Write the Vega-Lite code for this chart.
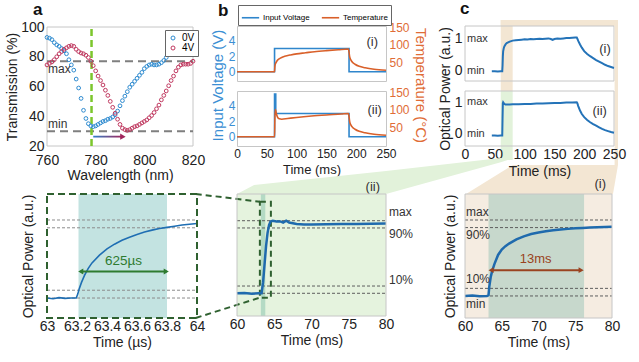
{
"$schema": "https://vega.github.io/schema/vega-lite/v6.json",
"padding": {"left": 5, "top": 0, "right": 5, "bottom": 5},
"config": {
 "font": "Liberation Sans",
 "view": {"stroke": null},
 "axis": {"grid": false, "ticks": false, "domain": false, "labelFlush": false, "labelOverlap": false, "labelFontSize": 14, "titleFontSize": 14, "titleFontWeight": "normal", "labelColor": "#222222", "titleColor": "#222222", "labelFont": "Liberation Sans", "titleFont": "Liberation Sans"},
 "legend": {"labelFont": "Liberation Sans"},
 "text": {"font": "Liberation Sans"}
},
"datasets": {
 "aT": [
{"wl":760,"T":93,"s":"0V"},{"wl":761,"T":92.5,"s":"0V"},{"wl":762,"T":91.5,"s":"0V"},{"wl":763,"T":89.5,"s":"0V"},{"wl":764,"T":88,"s":"0V"},{"wl":765,"T":87,"s":"0V"},{"wl":766,"T":85.5,"s":"0V"},{"wl":767,"T":84,"s":"0V"},{"wl":768,"T":82,"s":"0V"},{"wl":769,"T":78,"s":"0V"},{"wl":770,"T":74.5,"s":"0V"},{"wl":771,"T":71,"s":"0V"},{"wl":772,"T":65,"s":"0V"},{"wl":773,"T":59,"s":"0V"},{"wl":774,"T":52,"s":"0V"},{"wl":775,"T":44,"s":"0V"},{"wl":776,"T":38.5,"s":"0V"},{"wl":777,"T":35,"s":"0V"},{"wl":778,"T":33.5,"s":"0V"},{"wl":779,"T":33,"s":"0V"},{"wl":780,"T":33.5,"s":"0V"},{"wl":781,"T":34.5,"s":"0V"},{"wl":782,"T":35.5,"s":"0V"},{"wl":783,"T":36.5,"s":"0V"},{"wl":784,"T":37,"s":"0V"},{"wl":785,"T":38,"s":"0V"},{"wl":786,"T":38.5,"s":"0V"},{"wl":787,"T":39.5,"s":"0V"},{"wl":788,"T":41,"s":"0V"},{"wl":789,"T":43.5,"s":"0V"},{"wl":790,"T":47,"s":"0V"},{"wl":791,"T":50.5,"s":"0V"},{"wl":792,"T":53.5,"s":"0V"},{"wl":793,"T":56.5,"s":"0V"},{"wl":794,"T":59.5,"s":"0V"},{"wl":795,"T":61.5,"s":"0V"},{"wl":796,"T":63.5,"s":"0V"},{"wl":797,"T":65.5,"s":"0V"},{"wl":798,"T":67.5,"s":"0V"},{"wl":799,"T":69.5,"s":"0V"},{"wl":800,"T":72,"s":"0V"},{"wl":801,"T":73.5,"s":"0V"},{"wl":802,"T":74.5,"s":"0V"},{"wl":803,"T":75,"s":"0V"},{"wl":804,"T":74.5,"s":"0V"},{"wl":805,"T":74.5,"s":"0V"},{"wl":806,"T":75,"s":"0V"},{"wl":807,"T":76,"s":"0V"},{"wl":808,"T":77.5,"s":"0V"},{"wl":809,"T":79.5,"s":"0V"},{"wl":810,"T":82.5,"s":"0V"},{"wl":811,"T":85.5,"s":"0V"},{"wl":812,"T":88,"s":"0V"},{"wl":813,"T":90.5,"s":"0V"},{"wl":814,"T":92.5,"s":"0V"},{"wl":815,"T":94.5,"s":"0V"},{"wl":816,"T":95.5,"s":"0V"},{"wl":817,"T":96,"s":"0V"},{"wl":818,"T":95,"s":"0V"},{"wl":819,"T":94,"s":"0V"},{"wl":820,"T":93,"s":"0V"},
{"wl":760,"T":74.5,"s":"4V"},{"wl":761,"T":75.5,"s":"4V"},{"wl":762,"T":76.5,"s":"4V"},{"wl":763,"T":78,"s":"4V"},{"wl":764,"T":80,"s":"4V"},{"wl":765,"T":82,"s":"4V"},{"wl":766,"T":83.5,"s":"4V"},{"wl":767,"T":85,"s":"4V"},{"wl":768,"T":86,"s":"4V"},{"wl":769,"T":87,"s":"4V"},{"wl":770,"T":87.5,"s":"4V"},{"wl":771,"T":87,"s":"4V"},{"wl":772,"T":85,"s":"4V"},{"wl":773,"T":83.5,"s":"4V"},{"wl":774,"T":82.5,"s":"4V"},{"wl":775,"T":82,"s":"4V"},{"wl":776,"T":81,"s":"4V"},{"wl":777,"T":79.5,"s":"4V"},{"wl":778,"T":77,"s":"4V"},{"wl":779,"T":74,"s":"4V"},{"wl":780,"T":70.5,"s":"4V"},{"wl":781,"T":67,"s":"4V"},{"wl":782,"T":64,"s":"4V"},{"wl":783,"T":61,"s":"4V"},{"wl":784,"T":57.5,"s":"4V"},{"wl":785,"T":54,"s":"4V"},{"wl":786,"T":50,"s":"4V"},{"wl":787,"T":46,"s":"4V"},{"wl":788,"T":42,"s":"4V"},{"wl":789,"T":38,"s":"4V"},{"wl":790,"T":34.5,"s":"4V"},{"wl":791,"T":32,"s":"4V"},{"wl":792,"T":31,"s":"4V"},{"wl":793,"T":30.5,"s":"4V"},{"wl":794,"T":31,"s":"4V"},{"wl":795,"T":32,"s":"4V"},{"wl":796,"T":33,"s":"4V"},{"wl":797,"T":33.5,"s":"4V"},{"wl":798,"T":34.5,"s":"4V"},{"wl":799,"T":35.5,"s":"4V"},{"wl":800,"T":36.5,"s":"4V"},{"wl":801,"T":37.5,"s":"4V"},{"wl":802,"T":39,"s":"4V"},{"wl":803,"T":40.5,"s":"4V"},{"wl":804,"T":42.5,"s":"4V"},{"wl":805,"T":45,"s":"4V"},{"wl":806,"T":47.5,"s":"4V"},{"wl":807,"T":51,"s":"4V"},{"wl":808,"T":54,"s":"4V"},{"wl":809,"T":57,"s":"4V"},{"wl":810,"T":60.5,"s":"4V"},{"wl":811,"T":64,"s":"4V"},{"wl":812,"T":67,"s":"4V"},{"wl":813,"T":70.5,"s":"4V"},{"wl":814,"T":73,"s":"4V"},{"wl":815,"T":74.5,"s":"4V"},{"wl":816,"T":75,"s":"4V"},{"wl":817,"T":75,"s":"4V"},{"wl":818,"T":75,"s":"4V"},{"wl":819,"T":75.5,"s":"4V"},{"wl":820,"T":77,"s":"4V"}
 ],
 "aLev": [{"v":77,"label":"max"},{"v":30,"label":"min"}],
 "b1v": [{"t":0,"v":0},{"t":63,"v":3},{"t":188,"v":0},{"t":250,"v":0}],
 "b2v": [{"t":0,"v":0},{"t":63,"v":5.5},{"t":65,"v":3},{"t":188,"v":0},{"t":250,"v":0}],
 "b1T": [{"t":0,"T":25},{"t":63,"T":25},{"t":63.5,"T":38},{"t":64,"T":44},{"t":65,"T":49},{"t":67,"T":55},{"t":70,"T":60},{"t":75,"T":65},{"t":80,"T":68},{"t":90,"T":72},{"t":100,"T":75},{"t":115,"T":78},{"t":130,"T":81},{"t":150,"T":84},{"t":170,"T":86.5},{"t":187,"T":88.5},{"t":188,"T":80},{"t":189,"T":67},{"t":191,"T":58},{"t":194,"T":51},{"t":198,"T":46},{"t":205,"T":40},{"t":215,"T":36},{"t":230,"T":32},{"t":250,"T":29}],
 "b2T": [{"t":0,"T":25},{"t":63,"T":25},{"t":63.5,"T":70},{"t":64.3,"T":101},{"t":65,"T":98},{"t":66,"T":90},{"t":68,"T":80},{"t":71,"T":75},{"t":75,"T":74},{"t":85,"T":76},{"t":100,"T":79},{"t":125,"T":83},{"t":150,"T":86},{"t":175,"T":88.5},{"t":187,"T":90},{"t":188,"T":81},{"t":189,"T":68},{"t":191,"T":58},{"t":194,"T":51},{"t":198,"T":46},{"t":205,"T":40},{"t":215,"T":36},{"t":230,"T":32},{"t":250,"T":29}],
 "c1": [{"t":45,"v":-0.02},{"t":50,"v":-0.02},{"t":55,"v":-0.03},{"t":60,"v":-0.02},{"t":62.5,"v":-0.02},{"t":63,"v":0.15},{"t":63.5,"v":0.45},{"t":64,"v":0.6},{"t":65,"v":0.7},{"t":66,"v":0.76},{"t":68,"v":0.82},{"t":70,"v":0.86},{"t":75,"v":0.91},{"t":80,"v":0.94},{"t":85,"v":0.95},{"t":90,"v":0.96},{"t":95,"v":0.97},{"t":100,"v":0.98},{"t":105,"v":0.975},{"t":110,"v":0.99},{"t":115,"v":0.98},{"t":120,"v":0.99},{"t":125,"v":1.0},{"t":130,"v":0.99},{"t":135,"v":1.0},{"t":140,"v":1.01},{"t":144,"v":0.99},{"t":147,"v":0.96},{"t":150,"v":0.99},{"t":155,"v":1.01},{"t":160,"v":1.0},{"t":165,"v":1.01},{"t":170,"v":1.02},{"t":175,"v":1.02},{"t":180,"v":1.03},{"t":185,"v":1.04},{"t":187.5,"v":1.04},{"t":188.5,"v":1.0},{"t":190,"v":0.93},{"t":193,"v":0.82},{"t":196,"v":0.72},{"t":200,"v":0.61},{"t":205,"v":0.52},{"t":210,"v":0.45},{"t":215,"v":0.39},{"t":220,"v":0.33},{"t":225,"v":0.28},{"t":230,"v":0.23},{"t":235,"v":0.18},{"t":240,"v":0.14},{"t":245,"v":0.11},{"t":250,"v":0.08}],
 "c2": [{"t":45,"v":-0.05},{"t":50,"v":-0.05},{"t":55,"v":-0.06},{"t":60,"v":-0.05},{"t":62.5,"v":-0.05},{"t":63,"v":0.5},{"t":63.5,"v":0.97},{"t":64,"v":1.0},{"t":65,"v":0.97},{"t":66,"v":0.95},{"t":68,"v":0.93},{"t":70,"v":0.93},{"t":75,"v":0.93},{"t":80,"v":0.94},{"t":90,"v":0.94},{"t":100,"v":0.95},{"t":110,"v":0.95},{"t":120,"v":0.96},{"t":130,"v":0.96},{"t":140,"v":0.97},{"t":150,"v":0.98},{"t":160,"v":0.98},{"t":170,"v":0.99},{"t":180,"v":0.99},{"t":187.5,"v":1.0},{"t":188.5,"v":0.97},{"t":190,"v":0.88},{"t":193,"v":0.74},{"t":196,"v":0.63},{"t":200,"v":0.53},{"t":205,"v":0.44},{"t":210,"v":0.37},{"t":215,"v":0.31},{"t":220,"v":0.26},{"t":225,"v":0.21},{"t":230,"v":0.16},{"t":235,"v":0.12},{"t":240,"v":0.09},{"t":245,"v":0.06},{"t":250,"v":0.04}],
 "cLab": [{"v":1,"label":"max"},{"v":0,"label":"min"}],
 "lev": [{"v":1},{"v":0.9},{"v":0.1},{"v":0}],
 "dC": [{"t":63.0,"v":0.0},{"t":63.04,"v":-0.01},{"t":63.08,"v":0.005},{"t":63.12,"v":-0.005},{"t":63.16,"v":0.0},{"t":63.195,"v":0.0},{"t":63.205,"v":0.05},{"t":63.215,"v":0.12},{"t":63.23,"v":0.2},{"t":63.25,"v":0.29},{"t":63.275,"v":0.38},{"t":63.3,"v":0.45},{"t":63.35,"v":0.55},{"t":63.4,"v":0.63},{"t":63.45,"v":0.69},{"t":63.5,"v":0.74},{"t":63.55,"v":0.78},{"t":63.6,"v":0.815},{"t":63.65,"v":0.845},{"t":63.7,"v":0.87},{"t":63.75,"v":0.89},{"t":63.8,"v":0.905},{"t":63.85,"v":0.92},{"t":63.9,"v":0.935},{"t":63.95,"v":0.945},{"t":64.0,"v":0.955}],
 "eC": [{"t":60,"v":0.0},{"t":61,"v":0.005},{"t":62,"v":-0.005},{"t":63,"v":0.0},{"t":63.3,"v":0.0},{"t":63.5,"v":0.15},{"t":63.7,"v":0.4},{"t":63.9,"v":0.65},{"t":64.1,"v":0.83},{"t":64.3,"v":0.94},{"t":64.5,"v":0.99},{"t":64.8,"v":1.0},{"t":65.3,"v":0.99},{"t":65.8,"v":0.99},{"t":66.2,"v":0.975},{"t":66.6,"v":1.0},{"t":67.0,"v":0.975},{"t":67.5,"v":0.965},{"t":68,"v":0.955},{"t":69,"v":0.948},{"t":70,"v":0.948},{"t":72,"v":0.95},{"t":74,"v":0.955},{"t":76,"v":0.955},{"t":78,"v":0.958},{"t":80,"v":0.96}],
 "fC": [{"t":60,"v":0.0},{"t":61,"v":0.005},{"t":62,"v":-0.005},{"t":63,"v":0.0},{"t":63.2,"v":0.01},{"t":63.3,"v":0.12},{"t":63.5,"v":0.25},{"t":63.7,"v":0.33},{"t":64,"v":0.42},{"t":64.5,"v":0.54},{"t":65,"v":0.61},{"t":65.5,"v":0.655},{"t":66,"v":0.69},{"t":67,"v":0.745},{"t":68,"v":0.785},{"t":69,"v":0.815},{"t":70,"v":0.835},{"t":71,"v":0.852},{"t":72,"v":0.865},{"t":73,"v":0.875},{"t":74,"v":0.883},{"t":75,"v":0.89},{"t":76,"v":0.895},{"t":77,"v":0.9},{"t":78,"v":0.905},{"t":79,"v":0.908},{"t":80,"v":0.91}],
 "eConn": [{"x":60,"lo":1.368,"hi":1.368},{"x":62.3,"lo":1.368,"hi":1.492},{"x":80,"lo":1.368,"hi":1.685},{"x":95.4,"lo":1.807,"hi":1.864},{"x":97.2,"lo":1.864,"hi":1.864}],
 "cConn": [{"x":1.7,"lo":-1.895,"hi":-1.895},{"x":80.5,"lo":-1.895,"hi":-0.98},{"x":248.3,"lo":-1.895,"hi":-0.98},{"x":256.7,"lo":-0.98,"hi":-0.98}]
},
"columns": 3,
"bounds": "flush",
"align": "each",
"spacing": {"row": 10, "column": 40},
"resolve": {"scale": {"color": "independent"}},
"concat": [
 {
  "width": 146, "height": 55,
  "layer": [
   {"data": {"values": [{}]},
    "mark": {"type": "rect", "filled": false, "stroke": "#c6c6c6", "strokeWidth": 1},
    "encoding": {
     "x": {"datum": 760, "type": "quantitative", "scale": {"domain": [760, 820], "nice": false, "zero": false}, "axis": {"values": [760, 780, 800, 820], "format": "d", "tickCount": 20, "labelOverlap": false, "labelFlush": false, "title": "Wavelength (nm)", "offset": 65, "labelPadding": 7, "titlePadding": 1}},
     "x2": {"datum": 820},
     "y": {"datum": 20, "type": "quantitative", "scale": {"domain": [20, 100], "nice": false, "zero": false, "range": [120, 1]}, "axis": {"values": [20, 40, 60, 80, 100], "format": "d", "tickCount": 20, "labelOverlap": false, "labelFlush": false, "title": "Transmission (%)", "titleY": 60.5, "labelPadding": 3, "titlePadding": 1}},
     "y2": {"datum": 100}}},
   {"data": {"name": "aLev"},
    "mark": {"type": "rule", "stroke": "#7f7f7f", "strokeWidth": 2, "strokeDash": [8, 5]},
    "encoding": {"y": {"field": "v", "type": "quantitative"}, "x": {"datum": 760, "type": "quantitative"}, "x2": {"datum": 820}}},
   {"data": {"values": [{}]},
    "mark": {"type": "rule", "stroke": "#7cc62c", "strokeWidth": 2.5, "strokeDash": [7, 4]},
    "encoding": {"x": {"datum": 778.3, "type": "quantitative"}, "y": {"datum": 20, "type": "quantitative"}, "y2": {"datum": 100}}},
   {"data": {"name": "aT"},
    "mark": {"type": "point", "filled": false, "size": 14, "strokeWidth": 1, "opacity": 1},
    "encoding": {
     "x": {"field": "wl", "type": "quantitative"},
     "y": {"field": "T", "type": "quantitative"},
     "color": {"field": "s", "type": "nominal", "scale": {"domain": ["0V", "4V"], "range": ["#2e8bd0", "#c0385f"]},
       "legend": {"orient": "none", "legendX": 118, "legendY": 4, "direction": "vertical", "title": null, "strokeColor": "#666666", "fillColor": "white", "padding": 3, "labelFontSize": 10, "symbolSize": 16, "symbolStrokeWidth": 1, "rowPadding": 0, "labelOffset": 4}}}},
   {"data": {"values": [{}]},
    "mark": {"type": "text", "text": "max", "align": "left", "baseline": "middle", "dx": 1, "dy": 8, "fontSize": 12, "color": "#333333"},
    "encoding": {"x": {"datum": 760, "type": "quantitative"}, "y": {"datum": 77, "type": "quantitative"}}},
   {"data": {"values": [{}]},
    "mark": {"type": "text", "text": "min", "align": "left", "baseline": "middle", "dx": 1, "dy": -7, "fontSize": 12, "color": "#333333"},
    "encoding": {"x": {"datum": 760, "type": "quantitative"}, "y": {"datum": 30, "type": "quantitative"}}},
   {"data": {"values": [{}]},
    "mark": {"type": "rect", "fill": {"gradient": "linear", "x1": 0, "x2": 1, "y1": 0, "y2": 0, "stops": [{"offset": 0, "color": "#2f80c8"}, {"offset": 1, "color": "#a02a60"}]}},
    "encoding": {"x": {"datum": 779, "type": "quantitative"}, "x2": {"datum": 790.5}, "y": {"datum": 25.7, "type": "quantitative"}, "y2": {"datum": 26.9}}},
   {"data": {"values": [{}]},
    "mark": {"type": "point", "shape": "triangle-right", "filled": true, "size": 40, "color": "#a0255c", "opacity": 1},
    "encoding": {"x": {"datum": 791.2, "type": "quantitative"}, "y": {"datum": 26.3, "type": "quantitative"}}},
   {"data": {"values": [{}]},
    "mark": {"type": "text", "text": "a", "fontSize": 17, "fontWeight": "bold", "align": "left", "baseline": "alphabetic", "dx": -14, "dy": -12, "color": "#111111"},
    "encoding": {"x": {"datum": 760, "type": "quantitative"}, "y": {"datum": 100, "type": "quantitative"}}}
  ]
 },
 {
  "width": 149, "height": 55,
  "view": {"stroke": "#c6c6c6"},
  "layer": [
   {"layer": [
    {"data": {"name": "b1v"},
     "mark": {"type": "line", "interpolate": "step-after", "strokeWidth": 1.6},
     "encoding": {
      "x": {"field": "t", "type": "quantitative", "scale": {"domain": [0, 250], "nice": false}, "axis": {"labels": false, "title": null}},
      "y": {"field": "v", "type": "quantitative", "scale": {"domain": [-1.2, 5.9], "nice": false, "zero": false}, "axis": {"values": [0, 2, 4], "format": "d", "tickCount": 20, "labelOverlap": false, "labelFlush": false, "labelColor": "#3b8fd4", "labelFontSize": 12, "labelPadding": 2, "title": "Input Voltage (V)", "titleColor": "#3b8fd4", "titleFontSize": 15, "titleY": 59, "titlePadding": 3}},
      "color": {"datum": "Input Voltage", "type": "nominal", "scale": {"domain": ["Input Voltage", "Temperature"], "range": ["#2f86cc", "#d9602a"]},
        "legend": {"orient": "none", "legendX": 1, "legendY": -21, "direction": "horizontal", "title": null, "strokeColor": "#666666", "fillColor": "white", "padding": 3, "labelFontSize": 8, "symbolType": "stroke", "symbolSize": 300, "symbolStrokeWidth": 1.6, "labelOffset": 3, "columnPadding": 8}}}},
    {"data": {"values": [{}]},
     "mark": {"type": "text", "text": "b", "fontSize": 17, "fontWeight": "bold", "align": "left", "baseline": "alphabetic", "dx": -19, "dy": -10, "color": "#111111"},
     "encoding": {"x": {"datum": 0, "type": "quantitative"}, "y": {"datum": 5.9, "type": "quantitative"}}},
    {"data": {"values": [{}]},
     "mark": {"type": "text", "text": "(i)", "fontSize": 13, "color": "#333333", "baseline": "middle"},
     "encoding": {"x": {"datum": 227, "type": "quantitative"}, "y": {"datum": 3.85, "type": "quantitative"}}}
   ]},
   {"data": {"name": "b1T"},
    "mark": {"type": "line", "interpolate": "monotone", "strokeWidth": 1.6},
    "encoding": {
     "x": {"field": "t", "type": "quantitative"},
     "y": {"field": "T", "type": "quantitative", "scale": {"domain": [-1, 153], "nice": false, "zero": false}, "axis": {"orient": "right", "values": [50, 100, 150], "format": "d", "tickCount": 20, "labelOverlap": false, "labelFlush": false, "labelColor": "#e06c36", "labelFontSize": 12, "labelPadding": 3, "title": "Temperature (°C)", "titleColor": "#e06c36", "titleFontSize": 15, "titleY": 59, "titlePadding": 3}},
     "color": {"datum": "Temperature", "type": "nominal"}}}
  ],
  "resolve": {"scale": {"y": "independent"}}
 },
 {
  "width": 149, "height": 55,
  "layer": [
   {"data": {"values": [{}]},
    "mark": {"type": "rect", "fill": "#f3e6d3"},
    "encoding": {
     "x": {"datum": 60, "type": "quantitative", "scale": {"domain": [0, 250], "nice": false}, "axis": {"labels": false, "title": null}},
     "x2": {"datum": 80},
     "y": {"datum": -0.644, "type": "quantitative", "scale": {"domain": [-0.33, 1.4], "nice": false, "zero": false}, "axis": {"values": [0, 1], "format": "d", "tickCount": 20, "labelOverlap": false, "labelFlush": false, "labelPadding": 3, "title": "Optical Power (a.u.)", "titleY": 62.5, "titlePadding": 2}},
     "y2": {"datum": 1.589}}},
   {"data": {"values": [{}]},
    "mark": {"type": "rect", "fill": "#f3e6d3"},
    "encoding": {"x": {"datum": 60, "type": "quantitative"}, "x2": {"datum": 256.7}, "y": {"datum": 1.4, "type": "quantitative"}, "y2": {"datum": 1.589}}},
   {"data": {"values": [{}]},
    "mark": {"type": "rect", "filled": false, "stroke": "#c6c6c6", "strokeWidth": 1},
    "encoding": {"x": {"datum": 0, "type": "quantitative"}, "x2": {"datum": 250}, "y": {"datum": -0.33, "type": "quantitative"}, "y2": {"datum": 1.4}}},
   {"data": {"name": "c1"},
    "mark": {"type": "line", "color": "#2473b8", "strokeWidth": 2},
    "encoding": {"x": {"field": "t", "type": "quantitative"}, "y": {"field": "v", "type": "quantitative"}}},
   {"data": {"name": "cLab"},
    "mark": {"type": "text", "align": "left", "baseline": "middle", "dx": 2, "fontSize": 11, "color": "#333333"},
    "encoding": {"x": {"datum": 0, "type": "quantitative"}, "y": {"field": "v", "type": "quantitative"}, "text": {"field": "label"}}},
   {"data": {"values": [{}]},
    "mark": {"type": "text", "text": "(i)", "fontSize": 13, "color": "#333333", "baseline": "middle"},
    "encoding": {"x": {"datum": 235, "type": "quantitative"}, "y": {"datum": 0.68, "type": "quantitative"}}},
   {"data": {"values": [{}]},
    "mark": {"type": "text", "text": "c", "fontSize": 17, "fontWeight": "bold", "align": "left", "baseline": "alphabetic", "dx": -5, "dy": -12, "color": "#111111"},
    "encoding": {"x": {"datum": 0, "type": "quantitative"}, "y": {"datum": 1.4, "type": "quantitative"}}}
  ]
 },
 {"width": 1, "height": 93, "data": {"values": []}, "mark": "point"},
 {
  "width": 149, "height": 55,
  "view": {"stroke": "#c6c6c6"},
  "layer": [
   {"layer": [
    {"data": {"name": "b2v"},
     "mark": {"type": "line", "interpolate": "step-after", "strokeWidth": 1.6, "color": "#2f86cc"},
     "encoding": {
      "x": {"field": "t", "type": "quantitative", "scale": {"domain": [0, 250], "nice": false}, "axis": {"values": [0, 50, 100, 150, 200, 250], "format": "d", "tickCount": 20, "labelOverlap": false, "labelFlush": false, "labelFontSize": 12, "labelPadding": 2, "title": "Time (ms)", "titleFontSize": 13, "titlePadding": 4}},
      "y": {"field": "v", "type": "quantitative", "scale": {"domain": [-1.2, 5.9], "nice": false, "zero": false}, "axis": {"values": [0, 2, 4], "format": "d", "tickCount": 20, "labelOverlap": false, "labelFlush": false, "labelColor": "#3b8fd4", "labelFontSize": 12, "labelPadding": 2, "title": null}}}},
    {"data": {"values": [{}]},
     "mark": {"type": "text", "text": "(ii)", "fontSize": 13, "color": "#333333", "baseline": "middle"},
     "encoding": {"x": {"datum": 231, "type": "quantitative"}, "y": {"datum": 3.45, "type": "quantitative"}}}
   ]},
   {"data": {"name": "b2T"},
    "mark": {"type": "line", "interpolate": "monotone", "strokeWidth": 1.6, "color": "#d9602a"},
    "encoding": {
     "x": {"field": "t", "type": "quantitative"},
     "y": {"field": "T", "type": "quantitative", "scale": {"domain": [-1, 153], "nice": false, "zero": false}, "axis": {"orient": "right", "values": [50, 100, 150], "format": "d", "tickCount": 20, "labelOverlap": false, "labelFlush": false, "labelColor": "#e06c36", "labelFontSize": 12, "labelPadding": 3, "title": null}}}}
  ],
  "resolve": {"scale": {"y": "independent"}}
 },
 {
  "width": 149, "height": 55,
  "layer": [
   {"data": {"values": [{}]},
    "mark": {"type": "rect", "fill": "#e2f2da"},
    "encoding": {
     "x": {"datum": 60, "type": "quantitative", "scale": {"domain": [0, 250], "nice": false}, "axis": {"values": [0, 50, 100, 150, 200, 250], "format": "d", "tickCount": 20, "labelOverlap": false, "labelFlush": false, "labelPadding": 1, "title": "Time (ms)", "titlePadding": 3, "zindex": 1}},
     "x2": {"datum": 80},
     "y": {"datum": -0.82, "type": "quantitative", "scale": {"domain": [-0.38, 1.357], "nice": false, "zero": false}, "axis": {"values": [0, 1], "format": "d", "tickCount": 20, "labelOverlap": false, "labelFlush": false, "labelPadding": 3, "title": null}},
     "y2": {"datum": 1.357}}},
   {"data": {"name": "cConn"},
    "mark": {"type": "area", "fill": "#f3e6d3"},
    "encoding": {"x": {"field": "x", "type": "quantitative"}, "y": {"field": "lo", "type": "quantitative"}, "y2": {"field": "hi"}}},
   {"data": {"values": [{}]},
    "mark": {"type": "rect", "fill": "#f3e6d3"},
    "encoding": {"x": {"datum": 251, "type": "quantitative"}, "x2": {"datum": 256.7}, "y": {"datum": -0.98, "type": "quantitative"}, "y2": {"datum": 3.6}}},
   {"data": {"values": [{}]},
    "mark": {"type": "rect", "filled": false, "stroke": "#c6c6c6", "strokeWidth": 1},
    "encoding": {"x": {"datum": 0, "type": "quantitative"}, "x2": {"datum": 250}, "y": {"datum": -0.38, "type": "quantitative"}, "y2": {"datum": 1.357}}},
   {"data": {"name": "c2"},
    "mark": {"type": "line", "color": "#2473b8", "strokeWidth": 2},
    "encoding": {"x": {"field": "t", "type": "quantitative"}, "y": {"field": "v", "type": "quantitative"}}},
   {"data": {"name": "cLab"},
    "mark": {"type": "text", "align": "left", "baseline": "middle", "dx": 2, "fontSize": 11, "color": "#333333"},
    "encoding": {"x": {"datum": 0, "type": "quantitative"}, "y": {"field": "v", "type": "quantitative"}, "text": {"field": "label"}}},
   {"data": {"values": [{}]},
    "mark": {"type": "text", "text": "(ii)", "fontSize": 13, "color": "#333333", "baseline": "middle"},
    "encoding": {"x": {"datum": 226, "type": "quantitative"}, "y": {"datum": 0.72, "type": "quantitative"}}}
  ]
 },
 {
  "width": 150, "height": 124,
  "layer": [
   {"data": {"values": [{}]},
    "mark": {"type": "rect", "fill": "#c3e3e1"},
    "encoding": {
     "x": {"datum": 63.21, "type": "quantitative", "scale": {"domain": [63, 64], "nice": false, "zero": false}, "axis": {"values": [63, 63.2, 63.4, 63.6, 63.8, 64], "tickCount": 20, "labelOverlap": false, "labelFlush": false, "format": ".1~f", "labelPadding": 1, "title": "Time (µs)", "titlePadding": 2}},
     "x2": {"datum": 63.8},
     "y": {"datum": -0.256, "type": "quantitative", "scale": {"domain": [-0.256, 1.333], "nice": false, "zero": false}, "axis": {"labels": false, "title": "Optical Power (a.u.)", "titlePadding": 12}},
     "y2": {"datum": 1.333}}},
   {"data": {"name": "lev"},
    "mark": {"type": "rule", "stroke": "#8c8c8c", "strokeWidth": 1, "strokeDash": [3, 2]},
    "encoding": {"y": {"field": "v", "type": "quantitative"}, "x": {"datum": 63, "type": "quantitative"}, "x2": {"datum": 64}}},
   {"data": {"name": "dC"},
    "mark": {"type": "line", "color": "#1f6eb3", "strokeWidth": 1.6},
    "encoding": {"x": {"field": "t", "type": "quantitative"}, "y": {"field": "v", "type": "quantitative"}}},
   {"data": {"values": [{}]},
    "mark": {"type": "rule", "stroke": "#2e7b30", "strokeWidth": 2},
    "encoding": {"x": {"datum": 63.225, "type": "quantitative"}, "x2": {"datum": 63.795}, "y": {"datum": 0.34, "type": "quantitative"}}},
   {"data": {"values": [{}]},
    "mark": {"type": "point", "shape": "triangle-left", "filled": true, "size": 35, "color": "#2e7b30", "opacity": 1},
    "encoding": {"x": {"datum": 63.225, "type": "quantitative"}, "y": {"datum": 0.34, "type": "quantitative"}}},
   {"data": {"values": [{}]},
    "mark": {"type": "point", "shape": "triangle-right", "filled": true, "size": 35, "color": "#2e7b30", "opacity": 1},
    "encoding": {"x": {"datum": 63.795, "type": "quantitative"}, "y": {"datum": 0.34, "type": "quantitative"}}},
   {"data": {"values": [{}]},
    "mark": {"type": "text", "text": "625µs", "fontSize": 13.5, "color": "#2e7b30", "baseline": "middle"},
    "encoding": {"x": {"datum": 63.51, "type": "quantitative"}, "y": {"datum": 0.48, "type": "quantitative"}}},
   {"data": {"values": [{}]},
    "mark": {"type": "rect", "filled": false, "stroke": "#2f6130", "strokeWidth": 2, "strokeDash": [7, 4]},
    "encoding": {"x": {"datum": 63, "type": "quantitative"}, "x2": {"datum": 64}, "y": {"datum": -0.256, "type": "quantitative"}, "y2": {"datum": 1.333}}}
  ]
 },
 {
  "width": 149, "height": 122,
  "view": {"fill": "#e5f3de"},
  "layer": [
   {"data": {"name": "eConn"},
    "mark": {"type": "area", "fill": "#e2f2da"},
    "encoding": {
     "x": {"field": "x", "type": "quantitative", "scale": {"domain": [60, 80], "nice": false, "zero": false}, "axis": {"values": [60, 65, 70, 75, 80], "format": "d", "tickCount": 20, "labelOverlap": false, "labelFlush": false, "labelPadding": 1, "title": "Time (ms)", "titlePadding": 2}},
     "y": {"field": "lo", "type": "quantitative", "scale": {"domain": [-0.313, 1.368], "nice": false, "zero": false}, "axis": null},
     "y2": {"field": "hi"}}},
   {"data": {"values": [{}]},
    "mark": {"type": "rect", "fill": "#b4dac4"},
    "encoding": {"x": {"datum": 63.2, "type": "quantitative"}, "x2": {"datum": 63.8}, "y": {"datum": -0.313, "type": "quantitative"}, "y2": {"datum": 1.368}}},
   {"data": {"name": "lev"},
    "mark": {"type": "rule", "stroke": "#5e5e5e", "strokeWidth": 1, "strokeDash": [3, 2]},
    "encoding": {"y": {"field": "v", "type": "quantitative"}, "x": {"datum": 60, "type": "quantitative"}, "x2": {"datum": 80}}},
   {"data": {"values": [{}]},
    "mark": {"type": "rect", "filled": false, "stroke": "#2f6130", "strokeWidth": 2, "strokeDash": [6, 4]},
    "encoding": {"x": {"datum": 63.07, "type": "quantitative"}, "x2": {"datum": 64.55}, "y": {"datum": -0.06, "type": "quantitative"}, "y2": {"datum": 1.262}}},
   {"data": {"values": [{}]},
    "mark": {"type": "rule", "stroke": "#2f6130", "strokeWidth": 2, "strokeDash": [6, 4]},
    "encoding": {"x": {"datum": 54.46, "type": "quantitative"}, "x2": {"datum": 63.07}, "y": {"datum": 1.368, "type": "quantitative"}, "y2": {"datum": 1.262}}},
   {"data": {"values": [{}]},
    "mark": {"type": "rule", "stroke": "#2f6130", "strokeWidth": 2, "strokeDash": [6, 4]},
    "encoding": {"x": {"datum": 54.46, "type": "quantitative"}, "x2": {"datum": 63.07}, "y": {"datum": -0.34, "type": "quantitative"}, "y2": {"datum": -0.06}}},
   {"data": {"name": "eC"},
    "mark": {"type": "line", "color": "#1f6aad", "strokeWidth": 2.5},
    "encoding": {"x": {"field": "t", "type": "quantitative"}, "y": {"field": "v", "type": "quantitative"}}},
   {"data": {"values": [{}]},
    "mark": {"type": "text", "text": "max", "align": "left", "baseline": "middle", "dx": 3, "dy": -9, "fontSize": 12, "color": "#333333"},
    "encoding": {"x": {"datum": 80, "type": "quantitative"}, "y": {"datum": 1, "type": "quantitative"}}},
   {"data": {"values": [{}]},
    "mark": {"type": "text", "text": "90%", "align": "left", "baseline": "middle", "dx": 3, "dy": 6, "fontSize": 12, "color": "#333333"},
    "encoding": {"x": {"datum": 80, "type": "quantitative"}, "y": {"datum": 0.9, "type": "quantitative"}}},
   {"data": {"values": [{}]},
    "mark": {"type": "text", "text": "10%", "align": "left", "baseline": "middle", "dx": 3, "dy": -6, "fontSize": 12, "color": "#333333"},
    "encoding": {"x": {"datum": 80, "type": "quantitative"}, "y": {"datum": 0.1, "type": "quantitative"}}},
   {"data": {"values": [{}]},
    "mark": {"type": "text", "text": "(ii)", "align": "right", "baseline": "alphabetic", "dx": -6, "dy": -3, "fontSize": 13, "color": "#333333"},
    "encoding": {"x": {"datum": 80, "type": "quantitative"}, "y": {"datum": 1.368, "type": "quantitative"}}},
   {"data": {"values": [{}]},
    "mark": {"type": "rect", "filled": false, "stroke": "#c6c6c6", "strokeWidth": 1},
    "encoding": {"x": {"datum": 60, "type": "quantitative"}, "x2": {"datum": 80}, "y": {"datum": -0.313, "type": "quantitative"}, "y2": {"datum": 1.368}}}
  ]
 },
 {
  "width": 147, "height": 124,
  "view": {"fill": "#f5ece1"},
  "layer": [
   {"data": {"values": [{}]},
    "mark": {"type": "rect", "fill": "#c7d8cc"},
    "encoding": {
     "x": {"datum": 63.2, "type": "quantitative", "scale": {"domain": [60, 80], "nice": false, "zero": false}, "axis": {"values": [60, 65, 70, 75, 80], "format": "d", "tickCount": 20, "labelOverlap": false, "labelFlush": false, "labelPadding": 1, "title": "Time (ms)", "titlePadding": 2}},
     "x2": {"datum": 76.2},
     "y": {"datum": -0.29, "type": "quantitative", "scale": {"domain": [-0.29, 1.342], "nice": false, "zero": false}, "axis": {"labels": false, "title": "Optical Power (a.u.)", "titlePadding": 8}},
     "y2": {"datum": 1.342}}},
   {"data": {"name": "lev"},
    "mark": {"type": "rule", "stroke": "#5e5e5e", "strokeWidth": 1, "strokeDash": [3, 2]},
    "encoding": {"y": {"field": "v", "type": "quantitative"}, "x": {"datum": 60, "type": "quantitative"}, "x2": {"datum": 80}}},
   {"data": {"name": "fC"},
    "mark": {"type": "line", "color": "#1f6aad", "strokeWidth": 2.5},
    "encoding": {"x": {"field": "t", "type": "quantitative"}, "y": {"field": "v", "type": "quantitative"}}},
   {"data": {"values": [{}]},
    "mark": {"type": "rule", "stroke": "#9a4320", "strokeWidth": 2},
    "encoding": {"x": {"datum": 63.55, "type": "quantitative"}, "x2": {"datum": 75.8}, "y": {"datum": 0.34, "type": "quantitative"}}},
   {"data": {"values": [{}]},
    "mark": {"type": "point", "shape": "triangle-left", "filled": true, "size": 35, "color": "#9a4320", "opacity": 1},
    "encoding": {"x": {"datum": 63.55, "type": "quantitative"}, "y": {"datum": 0.34, "type": "quantitative"}}},
   {"data": {"values": [{}]},
    "mark": {"type": "point", "shape": "triangle-right", "filled": true, "size": 35, "color": "#9a4320", "opacity": 1},
    "encoding": {"x": {"datum": 75.8, "type": "quantitative"}, "y": {"datum": 0.34, "type": "quantitative"}}},
   {"data": {"values": [{}]},
    "mark": {"type": "text", "text": "13ms", "fontSize": 13, "color": "#9a4320", "baseline": "middle"},
    "encoding": {"x": {"datum": 69.6, "type": "quantitative"}, "y": {"datum": 0.48, "type": "quantitative"}}},
   {"data": {"values": [{}]},
    "mark": {"type": "text", "text": "max", "align": "left", "baseline": "middle", "dx": 1, "dy": -8, "fontSize": 12, "color": "#333333"},
    "encoding": {"x": {"datum": 60, "type": "quantitative"}, "y": {"datum": 1, "type": "quantitative"}}},
   {"data": {"values": [{}]},
    "mark": {"type": "text", "text": "90%", "align": "left", "baseline": "middle", "dx": 1, "dy": 7, "fontSize": 12, "color": "#333333"},
    "encoding": {"x": {"datum": 60, "type": "quantitative"}, "y": {"datum": 0.9, "type": "quantitative"}}},
   {"data": {"values": [{}]},
    "mark": {"type": "text", "text": "10%", "align": "left", "baseline": "middle", "dx": 1, "dy": -9, "fontSize": 12, "color": "#333333"},
    "encoding": {"x": {"datum": 60, "type": "quantitative"}, "y": {"datum": 0.1, "type": "quantitative"}}},
   {"data": {"values": [{}]},
    "mark": {"type": "text", "text": "min", "align": "left", "baseline": "middle", "dx": 1, "dy": 8, "fontSize": 12, "color": "#333333"},
    "encoding": {"x": {"datum": 60, "type": "quantitative"}, "y": {"datum": 0, "type": "quantitative"}}},
   {"data": {"values": [{}]},
    "mark": {"type": "text", "text": "(i)", "align": "right", "baseline": "alphabetic", "dx": -6, "dy": -6, "fontSize": 13, "color": "#333333"},
    "encoding": {"x": {"datum": 80, "type": "quantitative"}, "y": {"datum": 1.342, "type": "quantitative"}}},
   {"data": {"values": [{}]},
    "mark": {"type": "rect", "filled": false, "stroke": "#c6c6c6", "strokeWidth": 1},
    "encoding": {"x": {"datum": 60, "type": "quantitative"}, "x2": {"datum": 80}, "y": {"datum": -0.29, "type": "quantitative"}, "y2": {"datum": 1.342}}}
  ]
 },
 {"width": 1, "height": 1, "data": {"values": []}, "mark": "point"},
 {"width": 188, "height": 1, "data": {"values": []}, "mark": "point"}
]
}
